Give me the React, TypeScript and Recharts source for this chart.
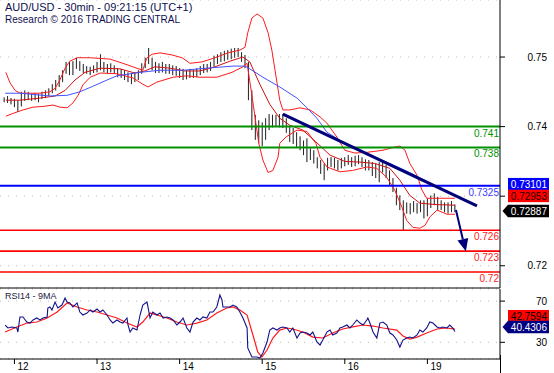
import React from 'react';
import { ComposedChart, Bar, Line, XAxis, YAxis, CartesianGrid, ReferenceLine } from 'recharts';

const FONT = '"Liberation Sans", Arial, sans-serif';

const TITLE = 'AUD/USD - 30min - 09:21:15 (UTC+1)';
const SUBTITLE = 'Research \u00a9 2016 TRADING CENTRAL';
const RSI_TITLE = 'RSI14 - 9MA';

// hourly price bars, first bar at hour -3 (hour 0 = 12th 00:00)
const FIRST_BAR_HOUR = -3;
const barHigh = [
  0.7442, 0.7444, 0.7441, 0.7440, 0.7438, 0.7450, 0.7452, 0.7450, 0.7447, 0.7448, 0.7447, 0.7450,
  0.7452, 0.7455, 0.7461, 0.7467, 0.7474, 0.7481, 0.7493, 0.7493, 0.7494, 0.7499, 0.7494, 0.7490,
  0.7487, 0.7486, 0.7488, 0.7493, 0.7504, 0.7493, 0.7490, 0.7491, 0.7488, 0.7484, 0.7483, 0.7481,
  0.7478, 0.7477, 0.7478, 0.7481, 0.7491, 0.7499, 0.7513, 0.7499, 0.7493, 0.7491, 0.7493, 0.7490,
  0.7490, 0.7488, 0.7487, 0.7484, 0.7483, 0.7481, 0.7483, 0.7481, 0.7484, 0.7487, 0.7490, 0.7490,
  0.7493, 0.7502, 0.7504, 0.7507, 0.7509, 0.7510, 0.7512, 0.7513, 0.7513, 0.7507, 0.7503, 0.7493,
  0.7452, 0.7417, 0.7409, 0.7406, 0.7412, 0.7418, 0.7417, 0.7417, 0.7418, 0.7418, 0.7412, 0.7401,
  0.7398, 0.7392, 0.7386, 0.7380, 0.7383, 0.7369, 0.7366, 0.7356, 0.7352, 0.7347, 0.7355, 0.7356,
  0.7355, 0.7352, 0.7355, 0.7356, 0.7359, 0.7356, 0.7358, 0.7359, 0.7356, 0.7353, 0.7352, 0.7349,
  0.7347, 0.7349, 0.7349, 0.7345, 0.7337, 0.7326, 0.7312, 0.7301, 0.7294, 0.7291, 0.7290, 0.7293,
  0.7290, 0.7294, 0.7294, 0.7297, 0.7301, 0.7304, 0.7299, 0.7294, 0.7291, 0.7291, 0.7293, 0.7288,
];
const barLow = [
  0.7435, 0.7434, 0.7432, 0.7428, 0.7421, 0.7429, 0.7437, 0.7438, 0.7437, 0.7438, 0.7435, 0.7440,
  0.7441, 0.7444, 0.7448, 0.7452, 0.7457, 0.7464, 0.7476, 0.7474, 0.7474, 0.7483, 0.7480, 0.7477,
  0.7476, 0.7474, 0.7477, 0.7478, 0.7481, 0.7478, 0.7477, 0.7478, 0.7476, 0.7471, 0.7470, 0.7467,
  0.7464, 0.7461, 0.7464, 0.7467, 0.7476, 0.7484, 0.7490, 0.7481, 0.7477, 0.7477, 0.7478, 0.7476,
  0.7476, 0.7474, 0.7473, 0.7470, 0.7467, 0.7468, 0.7470, 0.7470, 0.7471, 0.7474, 0.7477, 0.7478,
  0.7480, 0.7486, 0.7490, 0.7493, 0.7494, 0.7496, 0.7497, 0.7499, 0.7500, 0.7493, 0.7484, 0.7438,
  0.7395, 0.7381, 0.7376, 0.7372, 0.7381, 0.7395, 0.7399, 0.7401, 0.7399, 0.7398, 0.7391, 0.7378,
  0.7375, 0.7370, 0.7366, 0.7359, 0.7349, 0.7352, 0.7347, 0.7340, 0.7332, 0.7323, 0.7337, 0.7342,
  0.7340, 0.7337, 0.7340, 0.7343, 0.7345, 0.7342, 0.7343, 0.7346, 0.7342, 0.7337, 0.7337, 0.7329,
  0.7326, 0.7320, 0.7334, 0.7326, 0.7316, 0.7306, 0.7287, 0.7280, 0.7251, 0.7275, 0.7274, 0.7277,
  0.7275, 0.7277, 0.7268, 0.7271, 0.7283, 0.7287, 0.7280, 0.7280, 0.7277, 0.7275, 0.7277, 0.7277,
];

// [hour, price]
const upperBand: [number, number][] = [
  [-2.5, 0.7478], [-1.3, 0.7463], [0.2, 0.7452], [1.6, 0.7448], [7.4, 0.7448], [10.3, 0.7450],
  [11.8, 0.7455], [13.2, 0.7467], [14.7, 0.7484], [16.1, 0.7494], [18.2, 0.7499], [22.0, 0.7499],
  [27.8, 0.7497], [31.5, 0.7491], [34.4, 0.7486], [37.3, 0.7481], [38.5, 0.7499], [40.0, 0.7504],
  [42.3, 0.7506], [45.8, 0.7503], [48.7, 0.7499], [51.0, 0.7491], [54.5, 0.7493], [58.3, 0.7499],
  [62.0, 0.7506], [65.5, 0.7510], [67.0, 0.7514], [67.8, 0.7535], [69.0, 0.7556], [70.5, 0.7562],
  [72.2, 0.7556], [73.7, 0.7535], [74.8, 0.7510], [76.3, 0.7463], [77.1, 0.7438], [78.0, 0.7424],
  [80.0, 0.7424], [83.0, 0.7427], [85.9, 0.7424], [88.8, 0.7414], [90.8, 0.7405], [93.7, 0.7385],
  [96.0, 0.7366], [98.9, 0.7362], [102.4, 0.7363], [107.1, 0.7366], [110.0, 0.7370], [112.0, 0.7372],
  [113.5, 0.7366], [114.9, 0.7347], [117.0, 0.7330], [118.4, 0.7309], [119.8, 0.7297], [123.6, 0.7297],
  [128.0, 0.7297],
];
const middleBand: [number, number][] = [
  [-2.5, 0.7438], [1.6, 0.7438], [7.4, 0.7441], [11.8, 0.7444], [14.7, 0.7452], [17.6, 0.7467],
  [20.5, 0.7478], [24.9, 0.7484], [30.7, 0.7483], [35.0, 0.7477], [37.9, 0.7480], [40.8, 0.7486],
  [45.2, 0.7484], [49.5, 0.7480], [53.9, 0.7480], [58.3, 0.7486], [62.6, 0.7494], [66.4, 0.7500],
  [68.4, 0.7493], [71.3, 0.7461], [74.2, 0.7432], [77.1, 0.7412], [80.0, 0.7402], [83.8, 0.7395],
  [87.6, 0.7378], [91.7, 0.7359], [96.0, 0.7350], [100.4, 0.7349], [104.7, 0.7347], [109.1, 0.7340],
  [112.0, 0.7323], [114.9, 0.7301], [117.8, 0.7290], [122.2, 0.7288], [128.0, 0.7287],
];
const lowerBand: [number, number][] = [
  [-2.5, 0.7415], [-0.4, 0.7419], [2.5, 0.7424], [5.4, 0.7428], [8.3, 0.7429], [11.2, 0.7431],
  [13.2, 0.7428], [15.3, 0.7427], [17.0, 0.7434], [18.5, 0.7445], [19.9, 0.7460], [22.0, 0.7471],
  [24.9, 0.7477], [29.8, 0.7476], [34.4, 0.7470], [37.3, 0.7461], [38.8, 0.7457], [41.4, 0.7464],
  [46.1, 0.7471], [50.1, 0.7473], [53.9, 0.7471], [58.8, 0.7471], [63.2, 0.7478], [66.4, 0.7486],
  [67.6, 0.7491], [69.0, 0.7445], [71.0, 0.7376], [72.2, 0.7352], [73.7, 0.7334], [75.1, 0.7337],
  [76.6, 0.7356], [77.1, 0.7376], [78.9, 0.7385], [82.1, 0.7395], [85.0, 0.7393], [87.6, 0.7376],
  [88.8, 0.7356], [90.8, 0.7342], [94.6, 0.7335], [98.3, 0.7337], [102.4, 0.7342], [105.3, 0.7340],
  [108.2, 0.7327], [110.5, 0.7309], [112.6, 0.7284], [114.0, 0.7265], [115.8, 0.7255], [117.8, 0.7254],
  [119.3, 0.7258], [120.7, 0.7270], [122.8, 0.7280], [125.7, 0.7274], [128.0, 0.7274],
];
const blueMA: [number, number][] = [
  [-2.7, 0.7448], [1.6, 0.7448], [10.3, 0.7444], [15.3, 0.7445], [19.0, 0.7450], [22.8, 0.7458],
  [26.9, 0.7467], [29.8, 0.7473], [36.5, 0.7478], [42.3, 0.7481], [49.0, 0.7481], [55.9, 0.7484],
  [63.5, 0.7487], [67.0, 0.7487], [68.4, 0.7483], [72.2, 0.7471], [77.1, 0.7457], [82.1, 0.7441],
  [85.0, 0.7427], [87.9, 0.7412], [90.8, 0.7392], [96.0, 0.7376], [101.8, 0.7362], [109.1, 0.7347],
  [114.9, 0.7334], [120.7, 0.7319], [125.7, 0.7306], [128.0, 0.7300],
];
const trendLine: [number, number][] = [[78.0, 0.7418], [134.4, 0.7286]];
const arrowPath: [number, number][] = [[128.3, 0.7280], [130.3, 0.7238]];

const levels = [0.7400, 0.7370, 0.7315, 0.7251, 0.7221, 0.7191];
const levelLabels = ['0.741', '0.738', '0.7325', '0.726', '0.723', '0.72'];

const priceMarkers = [0.73101, 0.72953, 0.72887];
const priceTicks = [0.72, 0.73, 0.74, 0.75];

const rsi: [number, number][] = [
  [-2.7, 46.8], [-1.9, 43.9], [-0.7, 44.9], [0.7, 43.9], [1.0, 40.0], [1.6, 54.6], [2.5, 54.6],
  [3.6, 49.7], [4.5, 48.7], [5.4, 51.7], [6.5, 53.6], [7.4, 51.7], [8.3, 53.6], [9.5, 54.6],
  [9.7, 63.3], [10.3, 64.3], [10.9, 61.4], [11.8, 69.1], [12.6, 63.3], [13.8, 66.2], [14.7, 73.0],
  [15.3, 69.1], [16.1, 68.2], [17.0, 64.3], [18.2, 68.2], [19.0, 59.4], [19.9, 56.5], [21.1, 58.4],
  [22.0, 61.4], [22.8, 59.4], [24.0, 62.3], [24.9, 59.4], [25.7, 61.4], [26.9, 56.5], [27.8, 51.7],
  [28.6, 48.7], [29.8, 51.7], [30.7, 49.7], [31.5, 48.7], [32.7, 53.6], [33.0, 46.8], [33.6, 40.0],
  [34.4, 43.9], [35.6, 41.9], [36.5, 56.5], [37.3, 66.2], [38.5, 69.1], [38.8, 64.3], [39.4, 53.6],
  [40.2, 59.4], [41.4, 56.5], [42.3, 58.4], [43.2, 53.6], [44.3, 54.6], [45.2, 53.6], [46.1, 51.7],
  [47.2, 46.8], [48.1, 49.7], [49.0, 53.6], [50.1, 43.9], [51.0, 40.0], [51.9, 49.7], [53.0, 53.6],
  [53.9, 51.7], [54.8, 54.6], [55.9, 53.6], [56.8, 59.4], [57.7, 59.4], [58.8, 64.3], [59.7, 75.9],
  [60.3, 71.1], [60.6, 64.3], [62.6, 64.3], [63.5, 66.2], [64.6, 64.3], [65.5, 59.4], [66.4, 53.6],
  [67.6, 43.9], [67.8, 24.5], [69.0, 15.7], [70.5, 15.7], [71.3, 14.8], [72.2, 19.6], [73.4, 30.3],
  [74.2, 41.9], [75.1, 43.9], [76.3, 41.9], [77.1, 43.9], [78.0, 44.9], [79.2, 43.9], [80.0, 40.0],
  [80.9, 43.9], [82.1, 34.2], [83.0, 39.0], [83.8, 40.0], [85.0, 39.0], [85.9, 37.1], [86.7, 40.0],
  [87.9, 30.3], [88.8, 27.4], [89.6, 32.2], [90.8, 40.0], [91.7, 41.9], [92.5, 37.1], [93.7, 39.0],
  [94.6, 43.9], [95.4, 44.9], [96.6, 46.8], [97.5, 43.9], [98.3, 46.8], [99.5, 51.7], [100.4, 48.7],
  [101.3, 46.8], [102.4, 51.7], [102.7, 53.6], [103.3, 48.7], [104.2, 40.0], [105.3, 34.2], [106.2, 48.7],
  [107.1, 49.7], [108.2, 46.8], [109.1, 39.0], [110.0, 37.1], [111.1, 32.2], [112.0, 25.4], [112.9, 32.2],
  [114.0, 34.2], [114.9, 35.1], [115.8, 34.2], [117.0, 37.1], [117.8, 41.9], [118.7, 40.0], [119.8, 43.9],
  [120.7, 49.7], [121.6, 48.7], [122.8, 44.9], [123.6, 43.9], [124.5, 44.9], [125.7, 43.9], [126.5, 46.8],
  [127.4, 43.9], [128.0, 40.4],
];
const rsiMA: [number, number][] = [
  [-2.7, 40.0], [0.7, 44.9], [3.6, 48.7], [6.5, 49.7], [9.5, 53.6], [12.4, 59.4], [15.3, 68.2],
  [18.2, 64.3], [21.1, 61.4], [24.0, 59.4], [26.9, 56.5], [29.8, 53.6], [32.7, 48.7], [35.6, 44.9],
  [37.3, 49.7], [39.4, 58.4], [41.4, 56.5], [44.3, 53.6], [47.2, 49.7], [50.1, 46.8], [53.0, 48.7],
  [55.9, 51.7], [58.8, 58.4], [61.7, 63.3], [63.5, 64.3], [65.5, 61.4], [67.6, 56.5], [69.3, 37.1],
  [70.7, 20.6], [71.9, 15.7], [73.4, 22.5], [75.1, 34.2], [77.1, 41.9], [79.2, 43.9], [80.9, 42.9],
  [83.8, 40.0], [86.7, 35.1], [89.6, 34.2], [92.5, 39.0], [95.4, 42.9], [98.3, 44.9], [101.3, 46.8],
  [104.2, 45.8], [107.1, 43.9], [111.1, 41.9], [112.9, 36.1], [114.9, 33.2], [117.0, 35.1], [119.8, 39.0],
  [122.8, 42.9], [125.7, 43.9], [128.0, 42.8],
];
const rsiMarkers = [42.7594, 40.4306];
const rsiTicks = [30, 50, 70];

const dayTicks = [0, 24, 48, 72, 96, 120];
const dayLabels = ['12', '13', '14', '15', '16', '19'];

// ---- layout / style ----
const X_DOMAIN: [number, number] = [-4.2, 141.1];
const PRICE_DOMAIN: [number, number] = [0.7168, 0.7582];
const RSI_DOMAIN: [number, number] = [13.8, 81.75];
const hiddenPriceTickLabels = [0.73];
const hiddenRsiTickLabels = [50];

const levelStyles = [
  { stroke: '#009100', text: '#009100', width: 2 },
  { stroke: '#009100', text: '#009100', width: 2 },
  { stroke: '#0000ff', text: '#3a3aff', width: 2 },
  { stroke: '#ff0000', text: '#ff2020', width: 1.6 },
  { stroke: '#ff0000', text: '#ff2020', width: 1.6 },
  { stroke: '#ff0000', text: '#ff2020', width: 1.6 },
];
const priceMarkerStyles = [
  { fill: '#0000ff', text: '#ffffff', dy: -5, arrow: false },
  { fill: '#ff0000', text: '#2a0000', dy: -3.5, arrow: false },
  { fill: '#000000', text: '#ffffff', dy: 7, arrow: true },
];
const rsiMarkerStyles = [
  { fill: '#ff0000', text: '#000000', dy: -13, arrow: false },
  { fill: '#000080', text: '#ffffff', dy: -4.6, arrow: true },
];

const toRows = (pts: [number, number][]) => pts.map(([h, v]) => ({ h, v }));

const PriceBar = (props: any) => {
  const { x, y, width, height } = props;
  const h = Math.max(Math.abs(height), 1);
  const top = height < 0 ? y + height : y;
  const cx = x + width / 2;
  return (
    <g>
      <rect x={x} y={top} width={width} height={h} fill="#7a7a7a" />
      <line x1={cx} x2={cx} y1={top} y2={top + h} stroke="#111" strokeWidth={0.9} />
    </g>
  );
};

const makeYTick = (hidden: number[], fmt: (v: number) => string) => (props: any) => {
  const { y, payload } = props;
  if (hidden.includes(payload.value)) return <g />;
  return (
    <text x={547} y={y + 3.6} textAnchor="end" fontSize={10} fill="#000" fontFamily={FONT}>
      {fmt(payload.value)}
    </text>
  );
};
const PriceTick = makeYTick(hiddenPriceTickLabels, (v) => v.toFixed(2));
const RsiTick = makeYTick(hiddenRsiTickLabels, (v) => String(v));

const DayTick = (props: any) => {
  const { x, y, payload } = props;
  const i = dayTicks.indexOf(payload.value);
  return (
    <text x={x + 3} y={y + 4} textAnchor="start" fontSize={10} fill="#000" fontFamily={FONT}>
      {dayLabels[i]}
    </text>
  );
};

const renderLevelLabel = (text: string, color: string) => (p: any) => {
  const vb = p.viewBox || {};
  return (
    <text x={vb.x + vb.width - 1} y={vb.y + 10} textAnchor="end" fontSize={10} fill={color} fontFamily={FONT}>
      {text}
    </text>
  );
};

const renderMarker = (text: string, st: { fill: string; text: string; dy: number; arrow: boolean }) => (p: any) => {
  const vb = p.viewBox || {};
  const axisX = vb.x + vb.width;
  const cy = vb.y + st.dy;
  const left = axisX + 8;
  const right = axisX + 49;
  const hh = 6.2;
  return (
    <g>
      {st.arrow ? (
        <polygon
          points={`${axisX + 2.5},${cy} ${left},${cy - hh} ${right},${cy - hh} ${right},${cy + hh} ${left},${cy + hh}`}
          fill={st.fill}
        />
      ) : (
        <rect x={left} y={cy - hh} width={right - left} height={hh * 2} fill={st.fill} />
      )}
      <text x={right - 2} y={cy + 3.6} textAnchor="end" fontSize={10} fill={st.text} fontFamily={FONT}>
        {text}
      </text>
    </g>
  );
};

const ArrowHead = (props: any) => {
  const { cx, cy, index } = props;
  if (index !== arrowPath.length - 1 || cx == null) return <g key={`ah${index}`} />;
  return (
    <polygon
      key={`ah${index}`}
      points={`${cx - 5.4},${cy + 1.3} ${cx + 5.4},${cy - 1.3} ${cx + 3},${cy + 12}`}
      fill="#00007a"
    />
  );
};

const lineCommon = { dataKey: 'v', isAnimationActive: false, activeDot: false, legendType: 'none' as const };

export default function App() {
  const barRows = barHigh.map((hi, i) => ({ h: FIRST_BAR_HOUR + i, range: [barLow[i], hi] }));
  return (
    <div style={{ position: 'absolute', left: 0, top: 0, width: 554, height: 373, background: '#fff', fontFamily: FONT }}>
      <div style={{ position: 'absolute', left: 0, top: 0 }}>
        <ComposedChart width={554} height={289} data={barRows} margin={{ top: 0, right: 0, bottom: 0, left: 0 }}>
          <CartesianGrid vertical={false} stroke="#b8b8b8" strokeDasharray="1 7" />
          <XAxis
            type="number"
            dataKey="h"
            domain={X_DOMAIN}
            allowDataOverflow
            tick={false}
            tickLine={false}
            height={1}
            axisLine={{ stroke: '#000' }}
          />
          <YAxis
            orientation="right"
            type="number"
            width={54}
            domain={PRICE_DOMAIN}
            allowDataOverflow
            ticks={priceTicks}
            tick={PriceTick}
            tickSize={5}
            tickLine={{ stroke: '#000' }}
            axisLine={{ stroke: '#000' }}
          />
          <Bar dataKey="range" barSize={2.8} shape={PriceBar} isAnimationActive={false} legendType="none" />
          <Line {...lineCommon} data={toRows(upperBand)} stroke="#ff1a1a" strokeWidth={1} dot={false} />
          <Line {...lineCommon} data={toRows(lowerBand)} stroke="#ff1a1a" strokeWidth={1} dot={false} />
          <Line {...lineCommon} data={toRows(middleBand)} stroke="#d01010" strokeWidth={1} dot={false} />
          <Line {...lineCommon} data={toRows(blueMA)} stroke="#4452ff" strokeWidth={1} dot={false} />
          {levels.map((v, i) => (
            <ReferenceLine
              key={`lv${i}`}
              y={v}
              stroke={levelStyles[i].stroke}
              strokeWidth={levelStyles[i].width}
              label={renderLevelLabel(levelLabels[i], levelStyles[i].text)}
            />
          ))}
          <Line {...lineCommon} data={toRows(trendLine)} stroke="#00007a" strokeWidth={3} dot={false} />
          <Line {...lineCommon} data={toRows(arrowPath)} stroke="#00007a" strokeWidth={2} dot={ArrowHead} />
          {priceMarkers.map((v, i) => (
            <ReferenceLine
              key={`pm${i}`}
              y={v}
              stroke="none"
              label={renderMarker(v.toFixed(5), priceMarkerStyles[i])}
            />
          ))}
        </ComposedChart>
      </div>
      <div style={{ position: 'absolute', left: 0, top: 289 }}>
        <ComposedChart width={554} height={84} margin={{ top: 0, right: 0, bottom: 0, left: 0 }}>
          <CartesianGrid vertical={false} stroke="#b8b8b8" strokeDasharray="1 7" />
          <XAxis
            type="number"
            dataKey="h"
            domain={X_DOMAIN}
            allowDataOverflow
            ticks={dayTicks}
            interval={0}
            tick={DayTick}
            tickSize={5}
            height={14}
            tickLine={{ stroke: '#000' }}
            axisLine={{ stroke: '#000' }}
          />
          <YAxis
            orientation="right"
            type="number"
            width={54}
            domain={RSI_DOMAIN}
            allowDataOverflow
            ticks={rsiTicks}
            tick={RsiTick}
            tickSize={5}
            tickLine={{ stroke: '#000' }}
            axisLine={{ stroke: '#000' }}
          />
          <Line {...lineCommon} data={toRows(rsiMA)} stroke="#ff1a1a" strokeWidth={1.2} dot={false} />
          <Line {...lineCommon} data={toRows(rsi)} stroke="#12128a" strokeWidth={1.1} dot={false} />
          {rsiMarkers.map((v, i) => (
            <ReferenceLine
              key={`rm${i}`}
              y={v}
              stroke="none"
              label={renderMarker(v.toFixed(4), rsiMarkerStyles[i])}
            />
          ))}
        </ComposedChart>
      </div>
      <div style={{ position: 'absolute', left: 500, top: 355, width: 1, height: 18, background: '#000' }} />
      <div style={{ position: 'absolute', left: 5, top: 1, fontSize: 11, lineHeight: '13px', color: '#101050', whiteSpace: 'nowrap' }}>
        {TITLE}
      </div>
      <div style={{ position: 'absolute', left: 5, top: 14, fontSize: 10, lineHeight: '12px', color: '#101050', whiteSpace: 'nowrap' }}>
        {SUBTITLE}
      </div>
      <div style={{ position: 'absolute', left: 5, top: 291, fontSize: 9, lineHeight: '11px', color: '#202040', whiteSpace: 'nowrap' }}>
        {RSI_TITLE}
      </div>
    </div>
  );
}
